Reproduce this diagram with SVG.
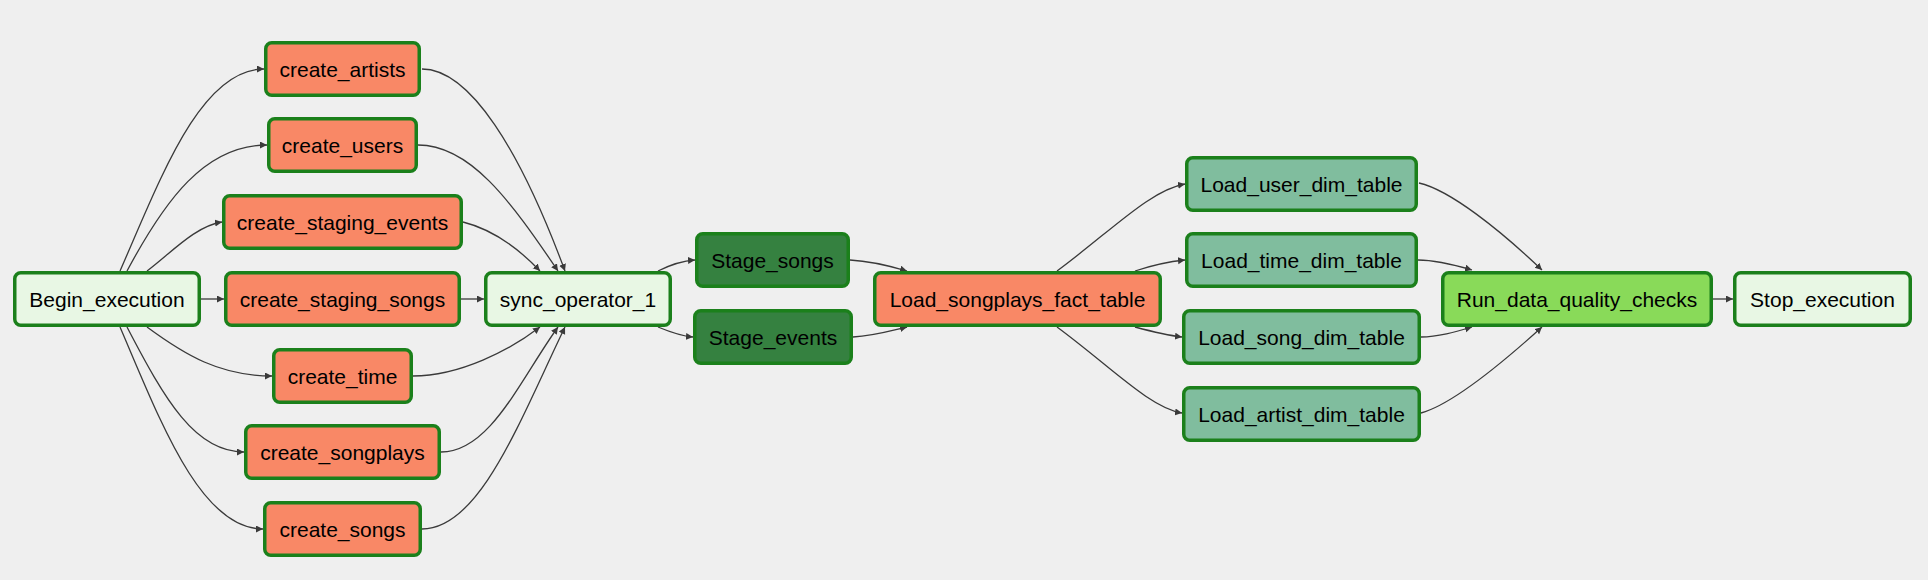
<svg xmlns="http://www.w3.org/2000/svg" width="1928" height="580" viewBox="0 0 1928 580">
<defs>
<style>
.n rect{stroke:#1b801b;stroke-width:3.5}
.n text{font-family:"Liberation Sans",Arial,Helvetica,sans-serif;font-size:21px;fill:#000;text-anchor:middle}
.dummy rect{fill:#e8f7e4}
.create rect{fill:#f98866}
.stage rect{fill:#358140}
.dim rect{fill:#80bd9e}
.dq rect{fill:#89da59}
#edges path{fill:none;stroke:#3a3a3a;stroke-width:1.3;marker-end:url(#arr)}
</style>
<marker id="arr" markerWidth="8" markerHeight="8" refX="7" refY="3.5" orient="auto" markerUnits="userSpaceOnUse">
<path d="M0,0 L7,3.5 L0,7 z" fill="#3a3a3a"/>
</marker>
</defs>
<rect x="0" y="0" width="1928" height="580" fill="#efefef"/>
<g id="edges">
<path d="M201,299 L224,299"/>
<path d="M120,271 C160,180 200,69 264,69"/>
<path d="M127,271 C165,200 205,145 267,145"/>
<path d="M147,271 C170,254 195,226 222,222"/>
<path d="M147,327 C185,355 220,376 272,376"/>
<path d="M127,327 C165,400 195,452 244,452"/>
<path d="M120,327 C160,420 200,529 263,529"/>
<path d="M422,69 C470,69 520,150 565,271"/>
<path d="M418,145 C470,145 510,200 558,271"/>
<path d="M463,222 C495,230 520,250 540,271"/>
<path d="M461,299 L484,299"/>
<path d="M413,376 C460,376 510,350 540,327"/>
<path d="M441,452 C490,452 520,380 558,327"/>
<path d="M422,529 C480,529 520,420 565,327"/>
<path d="M658,271 C670,265 680,261 695,260"/>
<path d="M658,327 C670,332 680,336 693,337"/>
<path d="M850,260 C870,261 890,266 907,271"/>
<path d="M853,337 C873,336 890,331 907,327"/>
<path d="M1057,271 C1110,232 1150,190 1185,184"/>
<path d="M1135,271 C1150,266 1165,262 1185,260"/>
<path d="M1135,327 C1150,331 1165,335 1182,337"/>
<path d="M1057,327 C1110,366 1150,408 1182,413"/>
<path d="M1419,183 C1450,190 1500,230 1542,270"/>
<path d="M1418,260 C1435,260 1455,265 1472,270"/>
<path d="M1421,337 C1438,337 1455,332 1472,327"/>
<path d="M1421,413 C1450,405 1500,365 1542,327"/>
<path d="M1713,299 L1733,299"/>
</g>
<g id="Begin_execution" class="n dummy"><rect x="14.75" y="272.75" width="184.5" height="52.5" rx="6"/><text x="107" y="306.5">Begin_execution</text></g>
<g id="create_artists" class="n create"><rect x="265.75" y="42.75" width="153.5" height="52.5" rx="6"/><text x="342.5" y="76.5">create_artists</text></g>
<g id="create_users" class="n create"><rect x="268.75" y="118.75" width="147.5" height="52.5" rx="6"/><text x="342.5" y="152.5">create_users</text></g>
<g id="create_staging_events" class="n create"><rect x="223.75" y="195.75" width="237.5" height="52.5" rx="6"/><text x="342.5" y="229.5">create_staging_events</text></g>
<g id="create_staging_songs" class="n create"><rect x="225.75" y="272.75" width="233.5" height="52.5" rx="6"/><text x="342.5" y="306.5">create_staging_songs</text></g>
<g id="create_time" class="n create"><rect x="273.75" y="349.75" width="137.5" height="52.5" rx="6"/><text x="342.5" y="383.5">create_time</text></g>
<g id="create_songplays" class="n create"><rect x="245.75" y="425.75" width="193.5" height="52.5" rx="6"/><text x="342.5" y="459.5">create_songplays</text></g>
<g id="create_songs" class="n create"><rect x="264.75" y="502.75" width="155.5" height="52.5" rx="6"/><text x="342.5" y="536.5">create_songs</text></g>
<g id="sync_operator_1" class="n dummy"><rect x="485.75" y="272.75" width="184.5" height="52.5" rx="6"/><text x="578" y="306.5">sync_operator_1</text></g>
<g id="Stage_songs" class="n stage"><rect x="696.75" y="233.75" width="151.5" height="52.5" rx="6"/><text x="772.5" y="267.5">Stage_songs</text></g>
<g id="Stage_events" class="n stage"><rect x="694.75" y="310.75" width="156.5" height="52.5" rx="6"/><text x="773" y="344.5">Stage_events</text></g>
<g id="Load_songplays_fact_table" class="n create"><rect x="874.75" y="272.75" width="285.5" height="52.5" rx="6"/><text x="1017.5" y="306.5">Load_songplays_fact_table</text></g>
<g id="Load_user_dim_table" class="n dim"><rect x="1186.75" y="157.75" width="229.5" height="52.5" rx="6"/><text x="1301.5" y="191.5">Load_user_dim_table</text></g>
<g id="Load_time_dim_table" class="n dim"><rect x="1186.75" y="233.75" width="229.5" height="52.5" rx="6"/><text x="1301.5" y="267.5">Load_time_dim_table</text></g>
<g id="Load_song_dim_table" class="n dim"><rect x="1183.75" y="310.75" width="235.5" height="52.5" rx="6"/><text x="1301.5" y="344.5">Load_song_dim_table</text></g>
<g id="Load_artist_dim_table" class="n dim"><rect x="1183.75" y="387.75" width="235.5" height="52.5" rx="6"/><text x="1301.5" y="421.5">Load_artist_dim_table</text></g>
<g id="Run_data_quality_checks" class="n dq"><rect x="1442.75" y="272.75" width="268.5" height="52.5" rx="6"/><text x="1577" y="306.5">Run_data_quality_checks</text></g>
<g id="Stop_execution" class="n dummy"><rect x="1734.75" y="272.75" width="175.5" height="52.5" rx="6"/><text x="1822.5" y="306.5">Stop_execution</text></g>
</svg>
